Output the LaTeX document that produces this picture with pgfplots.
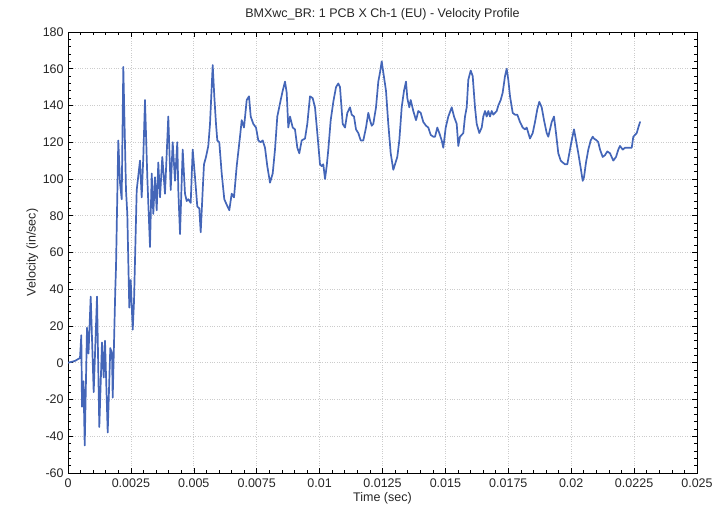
\documentclass[border=0pt]{standalone}
\usepackage{fontspec}
\setmainfont{Liberation Sans}
\usepackage{pgfplots}
\pgfplotsset{compat=1.18}
\usepackage{pgfplotstable}
\definecolor{trace}{RGB}{68,102,184}

% time (s), velocity (in/s)
\pgfplotstableread{
t v
0 0
0.000278 1
0.000477 2.6
0.000529 15
0.000556 -24
0.000616 -10
0.000664 -45
0.000755 19
0.000815 5
0.000902 36
0.001021 -16
0.001153 36
0.001244 -35
0.001351 11
0.001419 -8
0.001471 12
0.001578 -38
0.001681 8
0.001749 5
0.001777 -19
0.001880 40
0.001908 52
0.001999 121
0.002067 98
0.002134 89
0.002198 161
0.002305 94
0.002357 81
0.002436 30
0.002492 45
0.002572 18
0.002623 33
0.002731 94
0.002862 110
0.002929 90
0.002993 112
0.003060 143
0.003152 101
0.003259 63
0.003327 103
0.003390 81
0.003458 101
0.003525 83
0.003589 109
0.003657 90
0.003748 112
0.003855 92
0.003986 134
0.004082 94
0.004161 120
0.004253 99
0.004344 120
0.004384 94
0.004452 70
0.004559 116
0.004650 92
0.004718 88
0.004781 89
0.004877 87
0.004956 116
0.005048 101
0.005139 85
0.005219 84
0.005274 71
0.005354 94
0.005405 108
0.005485 112
0.005576 118
0.005644 130
0.005751 162
0.005815 145
0.005882 130
0.005934 121
0.006013 120
0.006109 103
0.006212 89
0.006308 86
0.006411 83
0.006506 92
0.006598 90
0.006705 107
0.006836 123
0.006904 132
0.006995 128
0.007103 143
0.007194 145
0.007262 134
0.007365 130
0.007472 128
0.007564 121
0.007659 120
0.007739 121
0.007830 117
0.007921 107
0.008029 98
0.008136 103
0.008227 116
0.008319 134
0.008454 143
0.008533 148
0.008625 153
0.008692 147
0.008756 128
0.008824 134
0.008931 128
0.009022 127
0.009114 117
0.009193 114
0.009289 121
0.009420 122
0.009511 130
0.009618 145
0.009726 144
0.009817 139
0.009909 125
0.010016 108
0.010083 107
0.010147 108
0.010215 100
0.010282 107
0.010346 116
0.010441 132
0.010545 142
0.010652 150
0.010743 152
0.010811 150
0.010918 130
0.011010 128
0.011101 136
0.011208 139
0.011276 135
0.011367 134
0.011447 127
0.011538 125
0.011634 121
0.011737 121
0.011844 128
0.011936 136
0.012003 132
0.012071 129
0.012134 130
0.012242 139
0.012333 153
0.012401 158
0.012468 164
0.012532 158
0.012639 148
0.012730 130
0.012826 114
0.012929 105
0.012997 108
0.013088 112
0.013168 121
0.013263 139
0.013354 148
0.013434 153
0.013486 144
0.013565 139
0.013621 143
0.013724 137
0.013832 132
0.013923 137
0.014018 136
0.014122 131
0.014229 129
0.014320 128
0.014416 124
0.014519 123
0.014587 123
0.014678 128
0.014758 125
0.014853 121
0.014917 117
0.015012 128
0.015116 134
0.015251 139
0.015342 134
0.015449 130
0.015513 118
0.015580 123
0.015712 125
0.015779 134
0.015847 139
0.015910 154
0.016006 159
0.016085 156
0.016176 139
0.016244 130
0.016347 125
0.016443 128
0.016506 134
0.016574 137
0.016641 134
0.016705 137
0.016773 134
0.016840 137
0.016904 135
0.017039 137
0.017103 140
0.017198 143
0.017277 147
0.017369 156
0.017436 160
0.017500 154
0.017568 145
0.017675 136
0.017766 135
0.017858 135
0.017965 131
0.018072 128
0.018164 127
0.018231 128
0.018362 122
0.018470 125
0.018561 131
0.018653 138
0.018732 142
0.018827 139
0.018919 132
0.019026 125
0.019090 123
0.019157 127
0.019225 131
0.019316 134
0.019396 125
0.019487 114
0.019583 110
0.019662 109
0.019754 108
0.019845 108
0.019925 114
0.020020 121
0.020111 127
0.020191 121
0.020282 114
0.020377 106
0.020457 99
0.020509 101
0.020588 109
0.020680 116
0.020775 121
0.020855 123
0.020906 122
0.021014 121
0.021077 120
0.021145 116
0.021252 112
0.021344 113
0.021435 115
0.021542 114
0.021673 110
0.021781 112
0.021872 116
0.021939 118
0.022047 116
0.022138 117
0.022270 117
0.022405 117
0.022468 123
0.022536 124
0.022604 125
0.022667 128
0.022735 131
}\velocity

\begin{document}
\fontsize{12.5}{15}\selectfont
\begin{tikzpicture}
\begin{axis}[
    name=ax,
    scale only axis,
    width=629pt,
    height=441pt,
    xmin=0, xmax=0.025,
    ymin=-60, ymax=180,
    xtick={0,0.0025,0.005,0.0075,0.01,0.0125,0.015,0.0175,0.02,0.0225,0.025},
    xticklabels={0,0.0025,0.005,0.0075,0.01,0.0125,0.015,0.0175,0.02,0.0225,0.025},
    ytick={-60,-40,...,180},
    scaled x ticks=false,
    minor x tick num=4,
    minor y tick num=4,
    tick align=inside,
    major tick length=5pt,
    minor tick length=3pt,
    every tick/.style={black, line width=0.6pt},
    axis line style={black, line width=0.9pt},
    grid=major,
    major grid style={gray!40, dotted, line width=0.7pt},
    /pgf/number format/assume math mode=true,
    tick label style={font=\fontsize{12.5}{15}\selectfont, text=black!85},
    xticklabel style={yshift=-1pt},
    title={BMXwc\_BR: 1 PCB X Ch-1 (EU) - Velocity Profile},
    title style={font=\fontsize{12.5}{15}\selectfont, text=black!85, yshift=2pt},
    xlabel={Time (sec)},
    ylabel={Velocity (in/sec)},
    label style={font=\fontsize{12.5}{15}\selectfont, text=black!85},
    xlabel style={yshift=3pt},
    ylabel style={yshift=-4pt},
]
\addplot[trace, line width=1.7pt, line join=round, line cap=round] table[x=t, y=v] {\velocity};
\end{axis}
\path[use as bounding box] ([shift={(-68pt,-35pt)}]ax.south west) rectangle ([shift={(22pt,32pt)}]ax.north east);
\end{tikzpicture}
\end{document}
